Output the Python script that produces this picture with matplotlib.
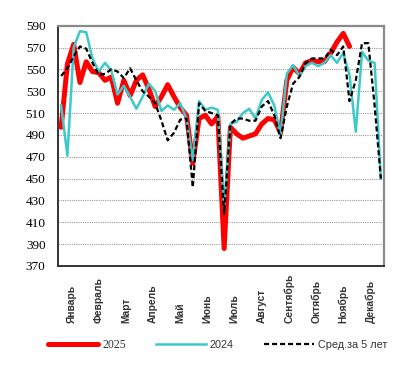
import numpy as np
import matplotlib
matplotlib.use("Agg")
import matplotlib.pyplot as plt
from matplotlib.transforms import blended_transform_factory

# weekly values
months = ["Январь", "Февраль", "Март", "Апрель", "Май", "Июнь",
          "Июль", "Август", "Сентябрь", "Октябрь", "Ноябрь", "Декабрь"]

y2025 = [497, 555, 573, 538, 557, 548, 547, 540, 543, 519,
         540, 526, 540, 545, 532, 516, 525, 536, 525, 515,
         508, 464, 505, 508, 500, 507, 386, 497, 491, 487,
         489, 491, 500, 505, 504, 492, 540, 552, 546, 556,
         558, 557, 557, 565, 575, 583, 571]

y2024 = [517, 471, 570, 585, 584, 560, 548, 556, 549, 527,
         535, 525, 514, 525, 537, 530, 512, 517, 513, 519,
         505, 467, 521, 513, 515, 513, 425, 500, 502, 510,
         514, 505, 522, 529, 517, 490, 546, 554, 544, 553,
         556, 553, 556, 563, 556, 565, 545, 493, 566, 558,
         556, 450]

avg5 = [544, 551, 562, 571, 569, 556, 545, 546, 550, 548,
        542, 551, 540, 530, 525, 519, 503, 485, 492, 504,
        505, 442, 519, 512, 510, 508, 418, 500, 505, 505,
        503, 503, 516, 521, 508, 487, 516, 537, 543, 556,
        560, 560, 560, 568, 563, 571, 521, 540, 574, 574,
        517, 450]

yticks = list(range(370, 591, 20))


def week_pos(n):
    # week centres on a 12-month axis
    return (np.arange(n) + 0.5) * 12 / 52


fig = plt.figure(figsize=(4.15, 3.65), dpi=100)
ax = fig.add_axes([58 / 415, 1 - 266 / 365, 326 / 415, (266 - 25.7) / 365])

ax.plot(week_pos(len(y2025)), y2025, color="#ff0000", lw=3.6,
        solid_joinstyle="round", solid_capstyle="round", label="2025", zorder=3)
ax.plot(week_pos(len(y2024)), y2024, color="#3ec9c9", lw=1.8,
        solid_joinstyle="round", label="2024", zorder=4)
ax.plot(week_pos(len(avg5)), avg5, color="black", lw=1.6,
        dashes=(2.3, 1.3), label="Сред.за 5 лет", zorder=5)

ax.set_xlim(0, 12)
ax.set_ylim(370, 590)
ax.set_yticks(yticks)
ax.set_yticklabels([str(v) for v in yticks], family="Liberation Serif", fontsize=9.5)
ax.tick_params(axis="y", length=0, pad=9)
ax.set_xticks([])

for v in yticks[1:-1]:
    ax.axhline(v, color="#9a9a9a", lw=0.8, ls=(0, (1, 1)), zorder=1)

# month names, rotated and bottom aligned
trans = blended_transform_factory(ax.transData, ax.transAxes)
for i, m in enumerate(months):
    ax.text(i + 0.5, -0.238, m, transform=trans, rotation=90, ha="center",
            va="bottom", fontsize=7.4, fontweight="bold", color="#333333",
            family="Liberation Sans")

for s in ["left", "bottom"]:
    ax.spines[s].set_color("#333333")
    ax.spines[s].set_linewidth(1.4)
for s in ["top", "right"]:
    ax.spines[s].set_color("#8a8a8a")
    ax.spines[s].set_linewidth(1.6)

leg = ax.legend(loc="center left", bbox_to_anchor=(48 / 415, 1 - 345 / 365),
                bbox_transform=fig.transFigure, ncol=3, frameon=False,
                fontsize=7.8, handlelength=4.6, handletextpad=0.4,
                columnspacing=2.75, borderpad=0, borderaxespad=0)
txts = leg.get_texts()
txts[0].set_family("Liberation Serif")
txts[0].set_fontsize(8.6)
txts[1].set_family("Liberation Sans")
txts[2].set_family("Liberation Sans")
for t in txts:
    t.set_color("#333333")

fig.savefig("out.png", dpi=100)
